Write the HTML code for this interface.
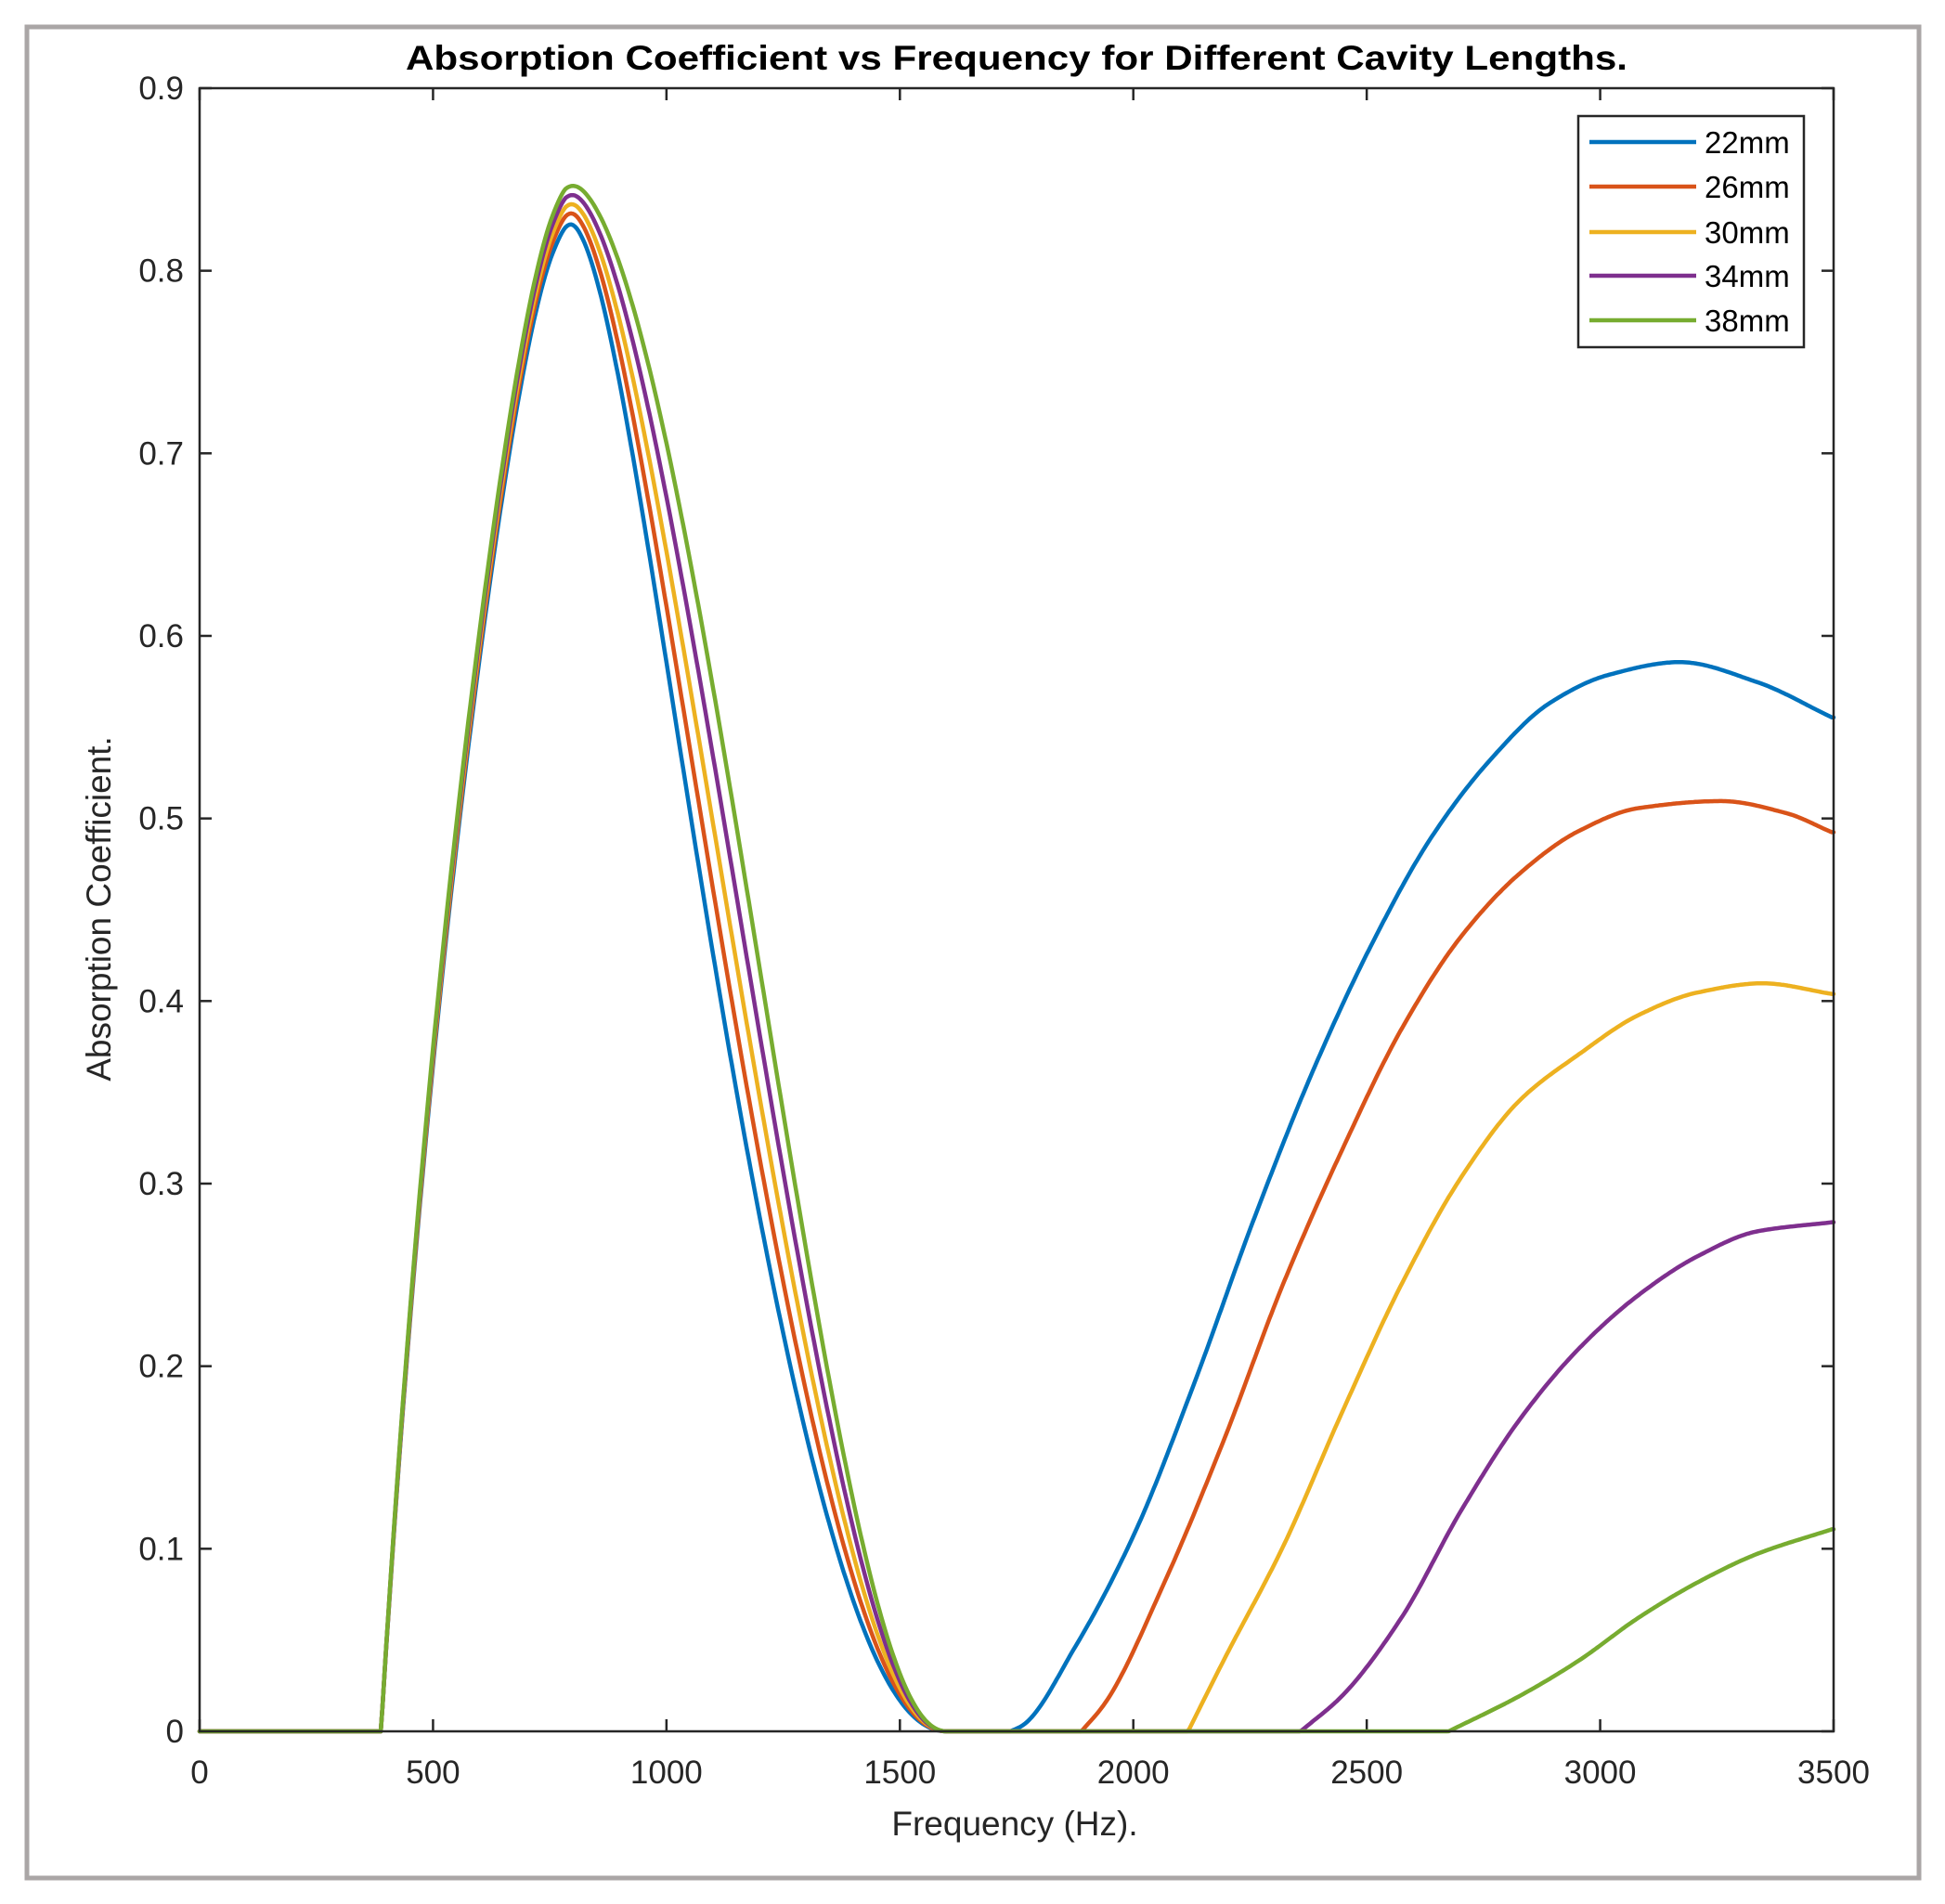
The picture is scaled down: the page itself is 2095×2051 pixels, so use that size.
<!DOCTYPE html>
<html><head><meta charset="utf-8"><style>
html,body{margin:0;padding:0;background:#fff;}
svg{display:block;}
text{font-family:"Liberation Sans",Arial,sans-serif;fill:#262626;}
</style></head><body>
<svg id="s" width="2095" height="2051" viewBox="0 0 2095 2051" xmlns="http://www.w3.org/2000/svg">
<rect x="0" y="0" width="2095" height="2051" fill="#fff"/>
<rect x="29" y="29" width="2038" height="1994" fill="#fff" stroke="#aaa6a6" stroke-width="5"/>
<text x="1095" y="75" font-size="37" font-weight="bold" text-anchor="middle" textLength="1316" lengthAdjust="spacingAndGlyphs" style="fill:#000">Absorption Coefficient vs Frequency for Different Cavity Lengths.</text>
<g id="ticks" stroke="#262626" stroke-width="2.5"></g>
<g id="curves" fill="none" stroke-width="4.5" stroke-linejoin="round" stroke-linecap="round"></g>
<rect x="215" y="95" width="1760" height="1770" fill="none" stroke="#262626" stroke-width="2.5"/>
<g id="labels" font-size="35"></g>
<text x="1093" y="1977" font-size="37" text-anchor="middle">Frequency (Hz).</text>
<text x="0" y="0" font-size="37" text-anchor="middle" transform="translate(119,979) rotate(-90)">Absorption Coefficient.</text>
<rect x="1700" y="125" width="243" height="249" fill="#fff" stroke="#262626" stroke-width="2.5"/>
<g stroke-width="4.5">
<line x1="1712" y1="153" x2="1827" y2="153" stroke="#0072BD"/>
<line x1="1712" y1="201" x2="1827" y2="201" stroke="#D95319"/>
<line x1="1712" y1="250" x2="1827" y2="250" stroke="#EDB120"/>
<line x1="1712" y1="297" x2="1827" y2="297" stroke="#7E2F8E"/>
<line x1="1712" y1="345" x2="1827" y2="345" stroke="#77AC30"/>
</g>
<g font-size="33">
<text x="1836" y="165" style="fill:#000">22mm</text>
<text x="1836" y="213" style="fill:#000">26mm</text>
<text x="1836" y="262" style="fill:#000">30mm</text>
<text x="1836" y="309" style="fill:#000">34mm</text>
<text x="1836" y="357" style="fill:#000">38mm</text>
</g>
</svg>
<script>
(function(){
var NS="http://www.w3.org/2000/svg";
function X(h){return 215+h*0.502857;}
function Y(v){return 1865-v*1966.7;}
var tk=document.getElementById('ticks'),lb=document.getElementById('labels');
function el(p,n,a,t){var e=document.createElementNS(NS,n);for(var k in a)e.setAttribute(k,a[k]);if(t)e.textContent=t;p.appendChild(e);return e;}
for(var h=0;h<=3500;h+=500){var x=X(h);
 el(tk,'line',{x1:x,y1:1865,x2:x,y2:1852});el(tk,'line',{x1:x,y1:95,x2:x,y2:108});
 el(lb,'text',{x:x,y:1921,'text-anchor':'middle'},String(h));}
for(var i=0;i<=9;i++){var v=i/10,y=Y(v);
 el(tk,'line',{x1:215,y1:y,x2:228,y2:y});el(tk,'line',{x1:1975,y1:y,x2:1962,y2:y});
 el(lb,'text',{x:198,y:y+12,'text-anchor':'end'},i==0?'0':v.toFixed(1));}
function fit(pts,pw){var n=pw.length,A=[],b=[];for(var i=0;i<n;i++){A.push(new Array(n).fill(0));b.push(0);}
 pts.forEach(function(p){var r=pw.map(function(k){return Math.pow(p[0],k);});
  for(var i=0;i<n;i++){b[i]+=r[i]*p[1];for(var j=0;j<n;j++)A[i][j]+=r[i]*r[j];}});
 for(var i=0;i<n;i++){var m=i;for(var r2=i+1;r2<n;r2++)if(Math.abs(A[r2][i])>Math.abs(A[m][i]))m=r2;
  var t=A[i];A[i]=A[m];A[m]=t;t=b[i];b[i]=b[m];b[m]=t;
  for(var r2=i+1;r2<n;r2++){var f=A[r2][i]/A[i][i];for(var j=i;j<n;j++)A[r2][j]-=f*A[i][j];b[r2]-=f*b[i];}}
 var c=new Array(n).fill(0);for(var i=n-1;i>=0;i--){var s=b[i];for(var j=i+1;j<n;j++)s-=A[i][j]*c[j];c[i]=s/A[i][i];}
 return function(t){var s=0;for(var i=0;i<n;i++)s+=c[i]*Math.pow(t,pw[i]);return s;};}
// monotone cubic (PCHIP)
function pchip(P){var n=P.length,h=[],dl=[],m=[];
 for(var i=0;i<n-1;i++){h[i]=P[i+1][0]-P[i][0];dl[i]=(P[i+1][1]-P[i][1])/h[i];}
 m[0]=dl[0];m[n-1]=dl[n-2];
 for(var i=1;i<n-1;i++){if(dl[i-1]*dl[i]<=0)m[i]=0;else{var w1=2*h[i]+h[i-1],w2=h[i]+2*h[i-1];m[i]=(w1+w2)/(w1/dl[i-1]+w2/dl[i]);}}
 return function(x){if(x<=P[0][0])return P[0][1];if(x>=P[n-1][0])return P[n-1][1];
  var i=0;while(x>P[i+1][0])i++;var t=(x-P[i][0])/h[i],t2=t*t,t3=t2*t;
  return (2*t3-3*t2+1)*P[i][1]+(t3-2*t2+t)*h[i]*m[i]+(-2*t3+3*t2)*P[i+1][1]+(t3-t2)*h[i]*m[i+1];};}
var rise=[[389,.005],[440,.18],[500,.377],[594,.570],[683,.730],[740,.800],[785,.821],[830,.812]];
var fall=[[740,.803],[785,.821],[830,.812],[861,.79],[950,.664],[1039,.520],[1128,.383],[1217,.261],[1306,.156],[1395,.073],[1484,.024],[1560,.003],[1600,0]];
var fr=fit(rise.map(function(p){return[(p[0]-389)/396,p[1]];}),[0,1,2,3,4]);
var ff=fit(fall.map(function(p){return[(1600-p[0])/815,p[1]];}),[2,3,4,5,6]);
function R(f){return fr((f-389)/396);}
function F(f){return ff((1600-f)/815);}
function hump(f){if(f<389)return 0;if(f>=1600)return 0;
 if(f<=760)return Math.max(0,R(f));
 if(f>=820)return Math.max(0,F(f));
 var w=(f-760)/60;w=w*w*(3-2*w);return (1-w)*R(f)+w*F(f);}
function zc(pts){return pts.map(function(p){return[(784+0.638*p[0])/0.502857,(1550-p[1])/2575];});}
var sec=[
 [[140,1550],[160,1542],[250,1430],[350,1270],[450,1060],[550,830],[650,620],[750,440],[850,290],[950,180],[1050,100],[1150,60],[1270,42],[1400,70],[1527,120]],
 [[260,1550],[300,1510],[400,1340],[500,1140],[600,920],[700,730],[800,560],[900,430],[1000,340],[1100,280],[1200,248],[1340,238],[1450,255],[1527,282]],
 [[440,1550],[500,1450],[600,1290],[700,1100],[800,920],[900,770],[1000,660],[1100,595],[1200,540],[1300,508],[1410,495],[1527,510]],
 [[630,1550],[700,1500],[800,1390],[900,1240],[1000,1110],[1100,1010],[1200,935],[1300,880],[1400,845],[1527,832]],
 [[880,1550],[1000,1500],[1100,1450],[1200,1390],[1300,1340],[1400,1300],[1527,1265]]];
var cols=['#0072BD','#D95319','#EDB120','#7E2F8E','#77AC30'];
var peaks=[0.821,0.827,0.832,0.837,0.842];
var g=document.getElementById('curves');
for(var c=0;c<5;c++){
 var d=c*22,sc=peaks[c]/0.821;
 var sp=zc(sec[c]);var f0=sp[0][0];sp[0][1]=0;
 var fs=pchip(sp);
 var pts=[];
 for(var f=0;f<=3500;f+=4){
  var v;
  if(f<389)v=0;
  else if(f<1600){var fb=f;if(f>785)fb=f-d*Math.sin(Math.PI*(f-785)/815);v=hump(fb)*sc;}
  else if(f<f0)v=0;
  else v=Math.max(0,fs(f));
  pts.push(X(f).toFixed(1)+","+Y(v).toFixed(1));
 }
 pts.push(X(3500).toFixed(1)+","+Y(Math.max(0,fs(3500))).toFixed(1));
 el(g,'polyline',{points:pts.join(" "),stroke:cols[c]});
}
})();
</script>
</body></html>
